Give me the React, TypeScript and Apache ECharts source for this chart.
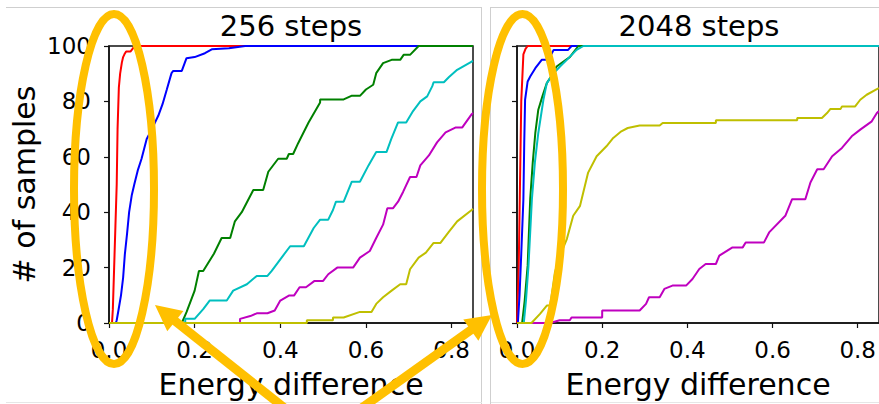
import React, { useEffect, useRef } from "react";
import * as echarts from "echarts";

const titles = ["256 steps", "2048 steps"];
const xTicks = [0, 0.2, 0.4, 0.6, 0.8];
const seriesColors = ["#ff0000", "#0000ff", "#008000", "#00bfbf", "#bf00bf", "#bfbf00"];
const seriesNames = ["red", "blue", "green", "cyan", "magenta", "yellow"];

// 256 steps panel
const red256 = [[0,0],[0.007,0],[0.009,5],[0.012,20],[0.015,35],[0.018,50],[0.020,70],[0.023,85],[0.026,90],[0.030,94],[0.033,96],[0.036,97],[0.040,98],[0.050,98],[0.055,99],[0.061,100],[0.85,100]];
const blue256 = [[0,0],[0.016,0],[0.018,1],[0.022,4.5],[0.028,10],[0.033,16.4],[0.037,24.8],[0.042,32],[0.047,40],[0.053,46],[0.059,50],[0.067,55],[0.076,59.3],[0.088,66.4],[0.10,70],[0.115,74.8],[0.125,79],[0.135,84.3],[0.146,90.2],[0.15,91],[0.17,91],[0.181,95.6],[0.20,96],[0.224,97.4],[0.24,98.8],[0.28,99.2],[0.318,100],[0.85,100]];
const green256 = [[0,0],[0.17,0],[0.181,3.9],[0.2,11.7],[0.21,18.8],[0.22,18.8],[0.245,25],[0.263,30.7],[0.283,30.7],[0.294,36.7],[0.31,40],[0.337,48],[0.36,48],[0.372,54.6],[0.395,59.3],[0.415,59.3],[0.42,61],[0.43,61],[0.442,65],[0.466,72.4],[0.493,79.6],[0.493,80.7],[0.548,80.7],[0.566,82],[0.586,82],[0.6,84.3],[0.617,86],[0.624,90.2],[0.64,93.8],[0.66,95],[0.68,95],[0.688,96.8],[0.703,96.8],[0.723,100],[0.85,100]];
const cyan256 = [[0,0],[0.178,0],[0.178,1.5],[0.2,1.5],[0.22,5],[0.235,8.1],[0.275,8.1],[0.29,11.7],[0.322,14],[0.345,17],[0.37,17],[0.38,18.8],[0.4,23],[0.423,27.7],[0.455,27.7],[0.478,34.3],[0.493,37.3],[0.512,37.3],[0.523,40.8],[0.53,43.8],[0.548,43.8],[0.567,51],[0.586,51],[0.606,56.9],[0.624,61.7],[0.648,61.7],[0.659,66.4],[0.675,72.4],[0.694,72.4],[0.71,76.5],[0.727,80],[0.743,81.8],[0.755,85.5],[0.758,86.9],[0.782,86.9],[0.794,88.8],[0.813,91.4],[0.847,94.4],[0.85,94.6]];
const magenta256 = [[0,0],[0.306,0],[0.306,1.5],[0.33,2.5],[0.345,3.5],[0.37,3.5],[0.387,4.5],[0.4,8.1],[0.42,9.9],[0.432,9.9],[0.445,12.9],[0.46,12.9],[0.48,15.2],[0.5,15.2],[0.512,17.6],[0.533,20],[0.57,20],[0.586,23.6],[0.609,26],[0.624,30.7],[0.64,35.5],[0.65,41.4],[0.663,41.4],[0.675,43.8],[0.687,47.4],[0.703,52.7],[0.718,52.7],[0.727,56.9],[0.747,60.5],[0.766,65.2],[0.786,68.8],[0.81,70.6],[0.825,70.6],[0.847,75.4],[0.85,75.8]];
const yellow256 = [[0,0],[0.462,0],[0.462,1],[0.523,1],[0.523,2],[0.548,2],[0.586,4],[0.613,4],[0.624,6.9],[0.64,9.3],[0.66,11.7],[0.68,14],[0.694,14],[0.703,19.4],[0.723,23.6],[0.74,25.4],[0.758,28.9],[0.774,28.9],[0.794,33],[0.813,36.7],[0.847,40.8],[0.85,41.2]];

// 2048 steps panel
const red2048 = [[0,0],[0.001,0],[0.004,20],[0.007,50],[0.01,80],[0.015,97],[0.02,99],[0.025,100],[0.85,100]];
const blue2048 = [[0,0],[0.002,0],[0.006,10],[0.01,25],[0.015,44.7],[0.017,65],[0.019,80.6],[0.025,87.2],[0.031,89],[0.043,92],[0.058,95],[0.074,95],[0.086,98.6],[0.12,98.6],[0.128,100],[0.85,100]];
const green2048 = [[0,0],[0.012,0],[0.018,8],[0.025,20.7],[0.031,44.7],[0.037,58],[0.043,68.6],[0.05,77],[0.06,82],[0.07,86.6],[0.08,89],[0.093,92.6],[0.11,94.5],[0.124,96],[0.144,100],[0.85,100]];
const cyan2048 = [[0,0],[0.016,0],[0.021,8],[0.027,20.7],[0.035,44.7],[0.042,58],[0.05,68.6],[0.062,80.6],[0.07,86.6],[0.085,90],[0.101,92.6],[0.117,95],[0.14,98.6],[0.156,100],[0.85,100]];
const magenta2048 = [[0,0],[0.078,0],[0.1,1],[0.124,1],[0.128,2],[0.2,2],[0.2,4.5],[0.288,4.5],[0.303,6.9],[0.31,9.3],[0.335,9.3],[0.346,12.3],[0.365,13.5],[0.397,13.5],[0.412,15.9],[0.428,19.5],[0.443,21.3],[0.467,21.3],[0.475,24.3],[0.506,27.3],[0.53,27.3],[0.537,29.1],[0.58,29.1],[0.592,32.7],[0.63,38.7],[0.646,44.7],[0.677,44.7],[0.689,50.7],[0.705,55.5],[0.72,55.5],[0.74,60.2],[0.763,63.2],[0.786,67.4],[0.806,69.8],[0.833,72.8],[0.845,75.8],[0.85,76.5]];
const yellow2048 = [[0,0],[0.034,0],[0.054,3.3],[0.07,6.3],[0.078,6.3],[0.089,18.3],[0.1,24],[0.117,30.3],[0.132,38.7],[0.148,42.3],[0.167,54.3],[0.187,60.2],[0.21,63.8],[0.226,66.8],[0.245,69.2],[0.26,70.4],[0.288,71.3],[0.335,71.3],[0.342,72.2],[0.467,72.2],[0.467,73.2],[0.658,73.2],[0.658,74],[0.716,74],[0.728,75.8],[0.736,77.3],[0.76,77.3],[0.763,78.2],[0.794,78.2],[0.806,80.6],[0.821,82.4],[0.845,84.4],[0.85,84.8]];

const panels = [
  [red256, blue256, green256, cyan256, magenta256, yellow256],
  [red2048, blue2048, green2048, cyan2048, magenta2048, yellow2048],
];

const FONT = "DejaVu Sans";
const GOLD = "#FFC000";
const BORDER = "#cfcfcf";

function arrow(tipX: number, tipY: number, fromX: number, fromY: number) {
  const dx = fromX - tipX;
  const dy = fromY - tipY;
  const len = Math.hypot(dx, dy);
  const ux = dx / len;
  const uy = dy / len;
  const headLen = 26;
  const half = 13;
  const bx = tipX + ux * headLen;
  const by = tipY + uy * headLen;
  const px = -uy;
  const py = ux;
  return [
    {
      type: "line",
      z: 100,
      shape: { x1: fromX, y1: fromY, x2: bx - ux * 2, y2: by - uy * 2 },
      style: { stroke: GOLD, lineWidth: 9 },
    },
    {
      type: "polygon",
      z: 100,
      shape: {
        points: [
          [tipX, tipY],
          [bx + px * half, by + py * half],
          [bx - px * half, by - py * half],
        ],
      },
      style: { fill: GOLD },
    },
  ];
}

export default function App() {
  const ref = useRef<HTMLDivElement>(null);
  useEffect(() => {
    if (!ref.current) return;
    const chart = echarts.init(ref.current, null, { renderer: "svg" });
    const grids = [
      { left: 109, top: 46, width: 364, height: 280 },
      { left: 517, top: 46, width: 364, height: 278 },
    ];
    const xAxes = grids.map((_, i) => ({
      type: "value",
      gridIndex: i,
      min: 0,
      max: 0.85,
      name: "Energy difference",
      nameLocation: "middle",
      nameGap: 46,
      nameTextStyle: { fontFamily: FONT, fontSize: 30, color: "#000" },
      axisLine: { show: true, lineStyle: { color: "#111", width: 1.5 } },
      axisTick: { show: true, inside: false, length: 5, customValues: xTicks, lineStyle: { color: "#111", width: 1.2 } },
      axisLabel: {
        show: true,
        customValues: xTicks,
        margin: 15,
        fontFamily: FONT,
        fontSize: 23,
        color: "#000",
        formatter: (v: number) => v.toFixed(1),
      },
      splitLine: { show: false },
    }));
    const yAxes = grids.map((_, i) => ({
      type: "value",
      gridIndex: i,
      min: 0,
      max: 100,
      interval: 20,
      name: i === 0 ? "# of samples" : "",
      nameLocation: "middle",
      nameGap: 70,
      nameTextStyle: { fontFamily: FONT, fontSize: 30, color: "#000" },
      axisLine: { show: true, lineStyle: { color: "#111", width: 1.5 } },
      axisTick: { show: true, inside: false, length: 5, lineStyle: { color: "#111", width: 1.2 } },
      axisLabel: { show: i === 0, margin: 18, fontFamily: FONT, fontSize: 23, color: "#000" },
      splitLine: { show: false },
    }));
    const series: any[] = [];
    panels.forEach((p, gi) => {
      p.forEach((data, si) => {
        series.push({
          type: "line",
          name: seriesNames[si] + "-" + gi,
          xAxisIndex: gi,
          yAxisIndex: gi,
          data,
          symbol: "none",
          clip: true,
          lineStyle: { color: seriesColors[si], width: 2 },
          z: 2 + si,
        });
      });
    });
    const graphic: any[] = [
      { type: "line", z: 1, shape: { x1: 6, y1: 7.5, x2: 482, y2: 7.5 }, style: { stroke: BORDER, lineWidth: 1 } },
      { type: "line", z: 1, shape: { x1: 491, y1: 7.5, x2: 879, y2: 7.5 }, style: { stroke: BORDER, lineWidth: 1 } },
      { type: "line", z: 1, shape: { x1: 481.5, y1: 7, x2: 481.5, y2: 404 }, style: { stroke: BORDER, lineWidth: 1 } },
      { type: "line", z: 1, shape: { x1: 490.5, y1: 7, x2: 490.5, y2: 404 }, style: { stroke: BORDER, lineWidth: 1 } },
      { type: "line", z: 1, shape: { x1: 6, y1: 402.5, x2: 482, y2: 402.5 }, style: { stroke: "#e6e6e6", lineWidth: 1 } },
      { type: "line", z: 1, shape: { x1: 491, y1: 402.5, x2: 879, y2: 402.5 }, style: { stroke: "#e6e6e6", lineWidth: 1 } },
      {
        type: "text", z: 5, x: 291, y: 26,
        style: { text: titles[0], fontFamily: FONT, fontSize: 29, fill: "#000", textAlign: "center", textVerticalAlign: "middle" },
      },
      {
        type: "text", z: 5, x: 699, y: 26,
        style: { text: titles[1], fontFamily: FONT, fontSize: 29, fill: "#000", textAlign: "center", textVerticalAlign: "middle" },
      },
      { type: "ellipse", z: 100, shape: { cx: 114, cy: 189, rx: 40, ry: 175 }, style: { fill: "none", stroke: GOLD, lineWidth: 8 } },
      { type: "ellipse", z: 100, shape: { cx: 522.5, cy: 189, rx: 40.5, ry: 175 }, style: { fill: "none", stroke: GOLD, lineWidth: 8 } },
      ...arrow(155, 305, 321, 437),
      ...arrow(492, 315, 321, 437),
    ];
    chart.setOption({
      animation: false,
      backgroundColor: "#fff",
      textStyle: { fontFamily: FONT },
      grid: grids.map((g) => ({ ...g, show: true, borderColor: "#111", borderWidth: 1.5, backgroundColor: "transparent" })),
      xAxis: xAxes,
      yAxis: yAxes,
      series,
      graphic,
    });
    return () => chart.dispose();
  }, []);
  return <div ref={ref} style={{ position: "absolute", left: 0, top: 0, width: 879, height: 404 }} />;
}
